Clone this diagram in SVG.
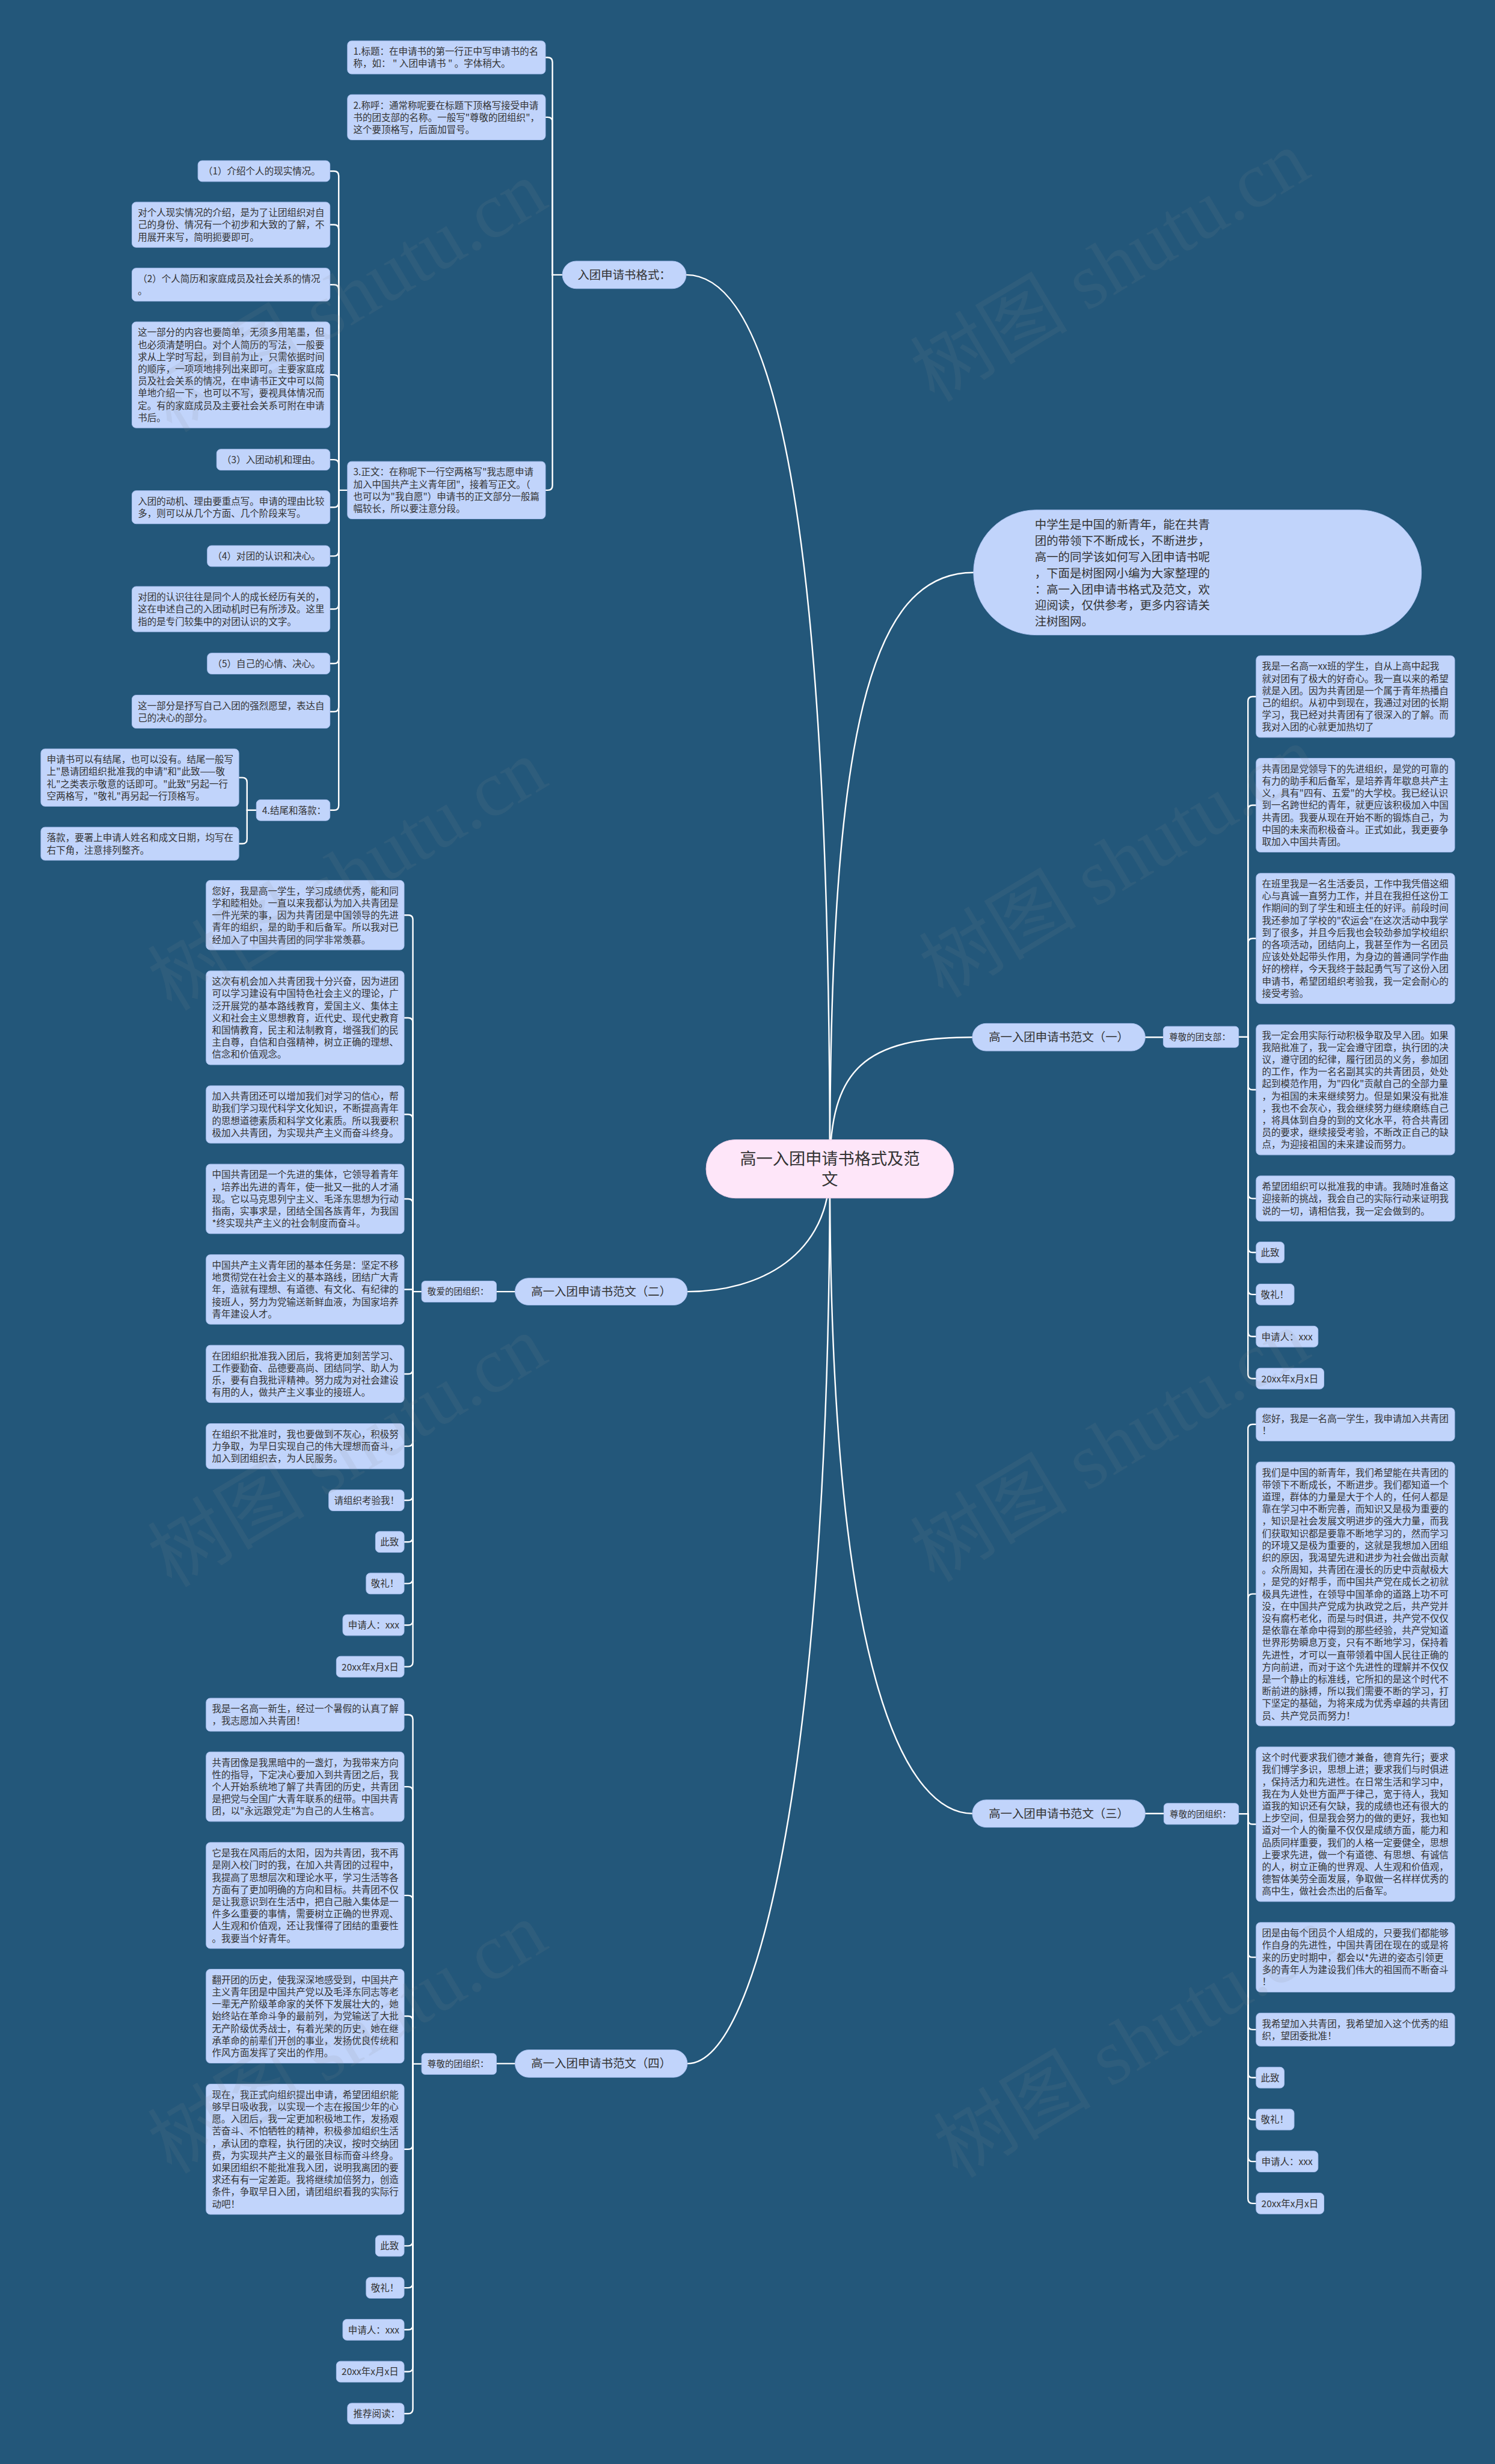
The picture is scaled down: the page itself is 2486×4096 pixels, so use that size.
<svg xmlns="http://www.w3.org/2000/svg" width="2486" height="4096" viewBox="0 0 2486 4096">
<style>
.bg{fill:#23577A}
.box{fill:#C1D4FB;stroke:#A9C0F0;stroke-width:1}
.lbl{fill:#C1D4FB;stroke:#A9C0F0;stroke-width:1}
.pill{fill:#C1D4FB;stroke:#A9C0F0;stroke-width:1}
.ctr{fill:#FEE6F9;stroke:#E9C8E4;stroke-width:1}
.t{font-family:"Noto Sans CJK SC","Liberation Sans",sans-serif;font-size:16px;fill:#333}
.ts{font-family:"Noto Sans CJK SC","Liberation Sans",sans-serif;font-size:15px;fill:#333}
.tp{font-family:"Noto Sans CJK SC","Liberation Sans",sans-serif;font-size:20px;fill:#333;text-anchor:middle}
.ti{font-family:"Noto Sans CJK SC","Liberation Sans",sans-serif;font-size:20px;fill:#333}
.tc{font-family:"Noto Sans CJK SC","Liberation Sans",sans-serif;font-size:28px;fill:#333;text-anchor:middle}
.con{fill:none;stroke:#FFFFFF;stroke-width:2.5;stroke-linecap:round}
.wm{font-family:"Liberation Serif","Noto Sans CJK SC",serif;font-size:135px;fill:#8C8C8C;opacity:0.11}
</style>
<rect class="bg" x="0" y="0" width="2486" height="4096"/>
<g transform="scale(0.971094)">

<g id="connectors">
<path class="con" d="M1421 2001C1421 1100 1360 470.5 1175 470.5"/>
<path class="con" d="M1421 2001C1421 1250 1490 980 1667 980"/>
<path class="con" d="M1421 2001C1421 1830 1480 1775.5 1665 1775.5"/>
<path class="con" d="M1421 2001C1421 2150 1300 2211 1177 2211"/>
<path class="con" d="M1421 2001C1421 2900 1560 3104.5 1665 3104.5"/>
<path class="con" d="M1421 2001C1421 3000 1300 3532.5 1177 3532.5"/>

<path class="con" d="M963 470.5H946"/>
<path class="con" d="M946 470.5V106.3Q946 98.3 938 98.3H934"/>
<path class="con" d="M946 470.5V208.7Q946 200.7 938 200.7H934"/>
<path class="con" d="M946 470.5V831.1Q946 839.1 938 839.1H934"/>

<path class="con" d="M595 839.1H580"/>
<path class="con" d="M580 839.1V300.9Q580 292.9 572 292.9H565"/>
<path class="con" d="M580 839.1V392.7Q580 384.7 572 384.7H565"/>
<path class="con" d="M580 839.1V495.3Q580 487.3 572 487.3H565"/>
<path class="con" d="M580 839.1V649.7Q580 641.7 572 641.7H565"/>
<path class="con" d="M580 839.1V794.9Q580 786.9 572 786.9H565"/>
<path class="con" d="M580 839.1V860.3Q580 868.3 572 868.3H565"/>
<path class="con" d="M580 839.1V943.9Q580 951.9 572 951.9H565"/>
<path class="con" d="M580 839.1V1034.7Q580 1042.7 572 1042.7H565"/>
<path class="con" d="M580 839.1V1127.9Q580 1135.9 572 1135.9H565"/>
<path class="con" d="M580 839.1V1210.3Q580 1218.3 572 1218.3H565"/>
<path class="con" d="M580 839.1V1378.9Q580 1386.9 572 1386.9H565"/>

<path class="con" d="M439 1386.9H423"/>
<path class="con" d="M423 1386.9V1339.1Q423 1331.1 415 1331.1H409"/>
<path class="con" d="M423 1386.9V1436.3Q423 1444.3 415 1444.3H409"/>

<path class="con" d="M1961 1775.5H1992"/>
<path class="con" d="M2121 1775H2137"/>
<path class="con" d="M2137 1775V1200.4Q2137 1192.4 2145 1192.4H2151"/>
<path class="con" d="M2137 1775V1386.3Q2137 1378.3 2145 1378.3H2151"/>
<path class="con" d="M2137 1775V1614.5Q2137 1606.5 2145 1606.5H2151"/>
<path class="con" d="M2137 1775V1857.5Q2137 1865.5 2145 1865.5H2151"/>
<path class="con" d="M2137 1775V2043.7Q2137 2051.7 2145 2051.7H2151"/>
<path class="con" d="M2137 1775V2135.9Q2137 2143.9 2145 2143.9H2151"/>
<path class="con" d="M2137 1775V2207.9Q2137 2215.9 2145 2215.9H2151"/>
<path class="con" d="M2137 1775V2279.9Q2137 2287.9 2145 2287.9H2151"/>
<path class="con" d="M2137 1775V2351.9Q2137 2359.9 2145 2359.9H2151"/>

<path class="con" d="M1961 3104.5H1993"/>
<path class="con" d="M2121 3105H2137"/>
<path class="con" d="M2137 3105V2446.3Q2137 2438.3 2145 2438.3H2151"/>
<path class="con" d="M2137 3105V2736.5Q2137 2728.5 2145 2728.5H2151"/>
<path class="con" d="M2137 3105V3114.7Q2137 3122.7 2145 3122.7H2151"/>
<path class="con" d="M2137 3105V3342.5Q2137 3350.5 2145 3350.5H2151"/>
<path class="con" d="M2137 3105V3466.3Q2137 3474.3 2145 3474.3H2151"/>
<path class="con" d="M2137 3105V3548.5Q2137 3556.5 2145 3556.5H2151"/>
<path class="con" d="M2137 3105V3620.3Q2137 3628.3 2145 3628.3H2151"/>
<path class="con" d="M2137 3105V3692.1Q2137 3700.1 2145 3700.1H2151"/>
<path class="con" d="M2137 3105V3763.9Q2137 3771.9 2145 3771.9H2151"/>

<path class="con" d="M882 2211H850"/>
<path class="con" d="M722 2211H707"/>
<path class="con" d="M707 2211V1574.5Q707 1566.5 699 1566.5H692"/>
<path class="con" d="M707 2211V1750.3Q707 1742.3 699 1742.3H692"/>
<path class="con" d="M707 2211V1915.7Q707 1907.7 699 1907.7H692"/>
<path class="con" d="M707 2211V2060.3Q707 2052.3 699 2052.3H692"/>
<path class="con" d="M707 2211V2207.3H692"/>
<path class="con" d="M707 2211V2343.9Q707 2351.9 699 2351.9H692"/>
<path class="con" d="M707 2211V2467.7Q707 2475.7 699 2475.7H692"/>
<path class="con" d="M707 2211V2560.3Q707 2568.3 699 2568.3H692"/>
<path class="con" d="M707 2211V2631.5Q707 2639.5 699 2639.5H692"/>
<path class="con" d="M707 2211V2702.7Q707 2710.7 699 2710.7H692"/>
<path class="con" d="M707 2211V2773.9Q707 2781.9 699 2781.9H692"/>
<path class="con" d="M707 2211V2845.1Q707 2853.1 699 2853.1H692"/>

<path class="con" d="M882 3532.5H850"/>
<path class="con" d="M722 3533H707"/>
<path class="con" d="M707 3533V2943.3Q707 2935.3 699 2935.3H692"/>
<path class="con" d="M707 3533V3066.5Q707 3058.5 699 3058.5H692"/>
<path class="con" d="M707 3533V3252.7Q707 3244.7 699 3244.7H692"/>
<path class="con" d="M707 3533V3459.3Q707 3451.3 699 3451.3H692"/>
<path class="con" d="M707 3533V3671.1Q707 3679.1 699 3679.1H692"/>
<path class="con" d="M707 3533V3836.5Q707 3844.5 699 3844.5H692"/>
<path class="con" d="M707 3533V3908.3Q707 3916.3 699 3916.3H692"/>
<path class="con" d="M707 3533V3980.1Q707 3988.1 699 3988.1H692"/>
<path class="con" d="M707 3533V4051.9Q707 4059.9 699 4059.9H692"/>
<path class="con" d="M707 3533V4123.7Q707 4131.7 699 4131.7H692"/>
</g>

<g id="center"><rect class="ctr" x="1209" y="1951" width="424" height="100" rx="50"/><text class="tc"><tspan x="1421" y="1994">高一入团申请书格式及范</tspan><tspan x="1421" y="2029">文</tspan></text></g>

<g id="intro"><rect class="pill" x="1667" y="873" width="767" height="214" rx="107"/><text class="ti"><tspan x="1772" y="905.5">中学生是中国的新青年，能在共青</tspan><tspan x="1772" dy="27.6">团的带领下不断成长，不断进步，</tspan><tspan x="1772" dy="27.6">高一的同学该如何写入团申请书呢</tspan><tspan x="1772" dy="27.6">，下面是树图网小编为大家整理的</tspan><tspan x="1772" dy="27.6">：高一入团申请书格式及范文，欢</tspan><tspan x="1772" dy="27.6">迎阅读，仅供参考，更多内容请关</tspan><tspan x="1772" dy="27.6">注树图网。</tspan></text></g>

<g id="b-format"><rect class="pill" x="963" y="447" width="212" height="47" rx="23.5"/><text class="tp" x="1069" y="477.5">入团申请书格式：</text></g>
<g id="b-fw1"><rect class="pill" x="1665" y="1752" width="296" height="47" rx="23.5"/><text class="tp" x="1813" y="1782.5">高一入团申请书范文（一）</text></g>
<g id="b-fw2"><rect class="pill" x="882" y="2188" width="295" height="46" rx="23"/><text class="tp" x="1029.5" y="2218">高一入团申请书范文（二）</text></g>
<g id="b-fw3"><rect class="pill" x="1665" y="3081" width="296" height="47" rx="23.5"/><text class="tp" x="1813" y="3111.5">高一入团申请书范文（三）</text></g>
<g id="b-fw4"><rect class="pill" x="882" y="3509" width="295" height="47" rx="23.5"/><text class="tp" x="1029.5" y="3539.5">高一入团申请书范文（四）</text></g>

<g id="l-fw1"><rect class="lbl" x="1992" y="1757" width="129" height="36" rx="6"/><text class="ts" x="2002" y="1780.5">尊敬的团支部：</text></g>
<g id="l-fw2"><rect class="lbl" x="722" y="2193" width="128" height="36" rx="6"/><text class="ts" x="732" y="2216.5">敬爱的团组织：</text></g>
<g id="l-fw3"><rect class="lbl" x="1993" y="3087" width="128" height="36" rx="6"/><text class="ts" x="2003" y="3110.5">尊敬的团组织：</text></g>
<g id="l-fw4"><rect class="lbl" x="722" y="3515" width="128" height="36" rx="6"/><text class="ts" x="732" y="3538.5">尊敬的团组织：</text></g>

<g id="t1" transform="translate(595,70)"><rect class="box" width="339" height="56.6" rx="7"/><text class="t" y="24"><tspan x="10">1.标题：在申请书的第一行正中写申请书的名</tspan><tspan x="10" dy="20.8">称，如： " 入团申请书 " 。字体稍大。</tspan></text></g>
<g id="t2" transform="translate(595,162)"><rect class="box" width="339" height="77.4" rx="7"/><text class="t" y="24"><tspan x="10">2.称呼：通常称呢要在标题下顶格写接受申请</tspan><tspan x="10" dy="20.8">书的团支部的名称。一般写"尊敬的团组织"，</tspan><tspan x="10" dy="20.8">这个要顶格写，后面加冒号。</tspan></text></g>
<g id="t3" transform="translate(595,790)"><rect class="box" width="339" height="98.2" rx="7"/><text class="t" y="24"><tspan x="10">3.正文：在称呢下一行空两格写"我志愿申请</tspan><tspan x="10" dy="20.8">加入中国共产主义青年团"，接着写正文。（</tspan><tspan x="10" dy="20.8">也可以为"我自愿"）申请书的正文部分一般篇</tspan><tspan x="10" dy="20.8">幅较长，所以要注意分段。</tspan></text></g>

<g id="c1" transform="translate(339,275)"><rect class="box" width="226" height="35.8" rx="7"/><text class="t" y="24"><tspan x="9">（1）介绍个人的现实情况。</tspan></text></g>
<g id="c2" transform="translate(226,346)"><rect class="box" width="339" height="77.4" rx="7"/><text class="t" y="24"><tspan x="10">对个人现实情况的介绍，是为了让团组织对自</tspan><tspan x="10" dy="20.8">己的身份、情况有一个初步和大致的了解，不</tspan><tspan x="10" dy="20.8">用展开来写，简明扼要即可。</tspan></text></g>
<g id="c3" transform="translate(226,459)"><rect class="box" width="339" height="56.6" rx="7"/><text class="t" y="24"><tspan x="10">（2）个人简历和家庭成员及社会关系的情况</tspan><tspan x="10" dy="20.8">。</tspan></text></g>
<g id="c4" transform="translate(226,551)"><rect class="box" width="339" height="181.4" rx="7"/><text class="t" y="24"><tspan x="10">这一部分的内容也要简单，无须多用笔墨，但</tspan><tspan x="10" dy="20.8">也必须清楚明白。对个人简历的写法，一般要</tspan><tspan x="10" dy="20.8">求从上学时写起，到目前为止，只需依据时间</tspan><tspan x="10" dy="20.8">的顺序，一项项地排列出来即可。主要家庭成</tspan><tspan x="10" dy="20.8">员及社会关系的情况，在申请书正文中可以简</tspan><tspan x="10" dy="20.8">单地介绍一下，也可以不写，要视具体情况而</tspan><tspan x="10" dy="20.8">定。有的家庭成员及主要社会关系可附在申请</tspan><tspan x="10" dy="20.8">书后。</tspan></text></g>
<g id="c5" transform="translate(371,769)"><rect class="box" width="194" height="35.8" rx="7"/><text class="t" y="24"><tspan x="9">（3）入团动机和理由。</tspan></text></g>
<g id="c6" transform="translate(226,840)"><rect class="box" width="339" height="56.6" rx="7"/><text class="t" y="24"><tspan x="10">入团的动机、理由要重点写。申请的理由比较</tspan><tspan x="10" dy="20.8">多，则可以从几个方面、几个阶段来写。</tspan></text></g>
<g id="c7" transform="translate(355,934)"><rect class="box" width="210" height="35.8" rx="7"/><text class="t" y="24"><tspan x="9">（4）对团的认识和决心。</tspan></text></g>
<g id="c8" transform="translate(226,1004)"><rect class="box" width="339" height="77.4" rx="7"/><text class="t" y="24"><tspan x="10">对团的认识往往是同个人的成长经历有关的，</tspan><tspan x="10" dy="20.8">这在申述自己的入团动机时已有所涉及。这里</tspan><tspan x="10" dy="20.8">指的是专门较集中的对团认识的文字。</tspan></text></g>
<g id="c9" transform="translate(355,1118)"><rect class="box" width="210" height="35.8" rx="7"/><text class="t" y="24"><tspan x="9">（5）自己的心情、决心。</tspan></text></g>
<g id="c10" transform="translate(226,1190)"><rect class="box" width="339" height="56.6" rx="7"/><text class="t" y="24"><tspan x="10">这一部分是抒写自己入团的强烈愿望，表达自</tspan><tspan x="10" dy="20.8">己的决心的部分。</tspan></text></g>
<g id="c11" transform="translate(439,1369)"><rect class="box" width="126" height="35.8" rx="7"/><text class="t" y="24"><tspan x="10">4.结尾和落款：</tspan></text></g>
<g id="c11a" transform="translate(70,1282)"><rect class="box" width="339" height="98.2" rx="7"/><text class="t" y="24"><tspan x="10">申请书可以有结尾，也可以没有。结尾一般写</tspan><tspan x="10" dy="20.8">上"恳请团组织批准我的申请"和"此致——敬</tspan><tspan x="10" dy="20.8">礼"之类表示敬意的话即可。"此致"另起一行</tspan><tspan x="10" dy="20.8">空两格写，"敬礼"再另起一行顶格写。</tspan></text></g>
<g id="c11b" transform="translate(70,1416)"><rect class="box" width="339" height="56.6" rx="7"/><text class="t" y="24"><tspan x="10">落款，要署上申请人姓名和成文日期，均写在</tspan><tspan x="10" dy="20.8">右下角，注意排列整齐。</tspan></text></g>

<g id="r1" transform="translate(2151,1122.5)"><rect class="box" width="340" height="139.8" rx="7"/><text class="t" y="24"><tspan x="10">我是一名高一xx班的学生，自从上高中起我</tspan><tspan x="10" dy="20.8">就对团有了极大的好奇心。我一直以来的希望</tspan><tspan x="10" dy="20.8">就是入团。因为共青团是一个属于青年热播自</tspan><tspan x="10" dy="20.8">己的组织。从初中到现在，我通过对团的长期</tspan><tspan x="10" dy="20.8">学习，我已经对共青团有了很深入的了解。而</tspan><tspan x="10" dy="20.8">我对入团的心就更加热切了</tspan></text></g>
<g id="r2" transform="translate(2151,1298)"><rect class="box" width="340" height="160.6" rx="7"/><text class="t" y="24"><tspan x="10">共青团是党领导下的先进组织，是党的可靠的</tspan><tspan x="10" dy="20.8">有力的助手和后备军，是培养青年歇息共产主</tspan><tspan x="10" dy="20.8">义，具有"四有、五爱"的大学校。我已经认识</tspan><tspan x="10" dy="20.8">到一名跨世纪的青年，就更应该积极加入中国</tspan><tspan x="10" dy="20.8">共青团。我要从现在开始不断的锻炼自己，为</tspan><tspan x="10" dy="20.8">中国的未来而积极奋斗。正式如此，我更要争</tspan><tspan x="10" dy="20.8">取加入中国共青团。</tspan></text></g>
<g id="r3" transform="translate(2151,1495)"><rect class="box" width="340" height="223" rx="7"/><text class="t" y="24"><tspan x="10">在班里我是一名生活委员，工作中我凭借这细</tspan><tspan x="10" dy="20.8">心与真诚一直努力工作，并且在我担任这份工</tspan><tspan x="10" dy="20.8">作期间的到了学生和班主任的好评。前段时间</tspan><tspan x="10" dy="20.8">我还参加了学校的"农运会"在这次活动中我学</tspan><tspan x="10" dy="20.8">到了很多，并且今后我也会较劲参加学校组织</tspan><tspan x="10" dy="20.8">的各项活动，团结向上，我甚至作为一名团员</tspan><tspan x="10" dy="20.8">应该处处起带头作用，为身边的普通同学作曲</tspan><tspan x="10" dy="20.8">好的榜样，今天我终于鼓起勇气写了这份入团</tspan><tspan x="10" dy="20.8">申请书，希望团组织考验我，我一定会耐心的</tspan><tspan x="10" dy="20.8">接受考验。</tspan></text></g>
<g id="r4" transform="translate(2151,1754)"><rect class="box" width="340" height="223" rx="7"/><text class="t" y="24"><tspan x="10">我一定会用实际行动积极争取及早入团。如果</tspan><tspan x="10" dy="20.8">我陪批准了，我一定会遵守团章，执行团的决</tspan><tspan x="10" dy="20.8">议，遵守团的纪律，履行团员的义务，参加团</tspan><tspan x="10" dy="20.8">的工作，作为一名名副其实的共青团员，处处</tspan><tspan x="10" dy="20.8">起到模范作用，为"四化"贡献自己的全部力量</tspan><tspan x="10" dy="20.8">，为祖国的未来继续努力。但是如果没有批准</tspan><tspan x="10" dy="20.8">，我也不会灰心，我会继续努力继续磨练自己</tspan><tspan x="10" dy="20.8">，将具体到自身的到的文化水平，符合共青团</tspan><tspan x="10" dy="20.8">员的要求，继续接受考验，不断改正自己的缺</tspan><tspan x="10" dy="20.8">点，为迎接祖国的未来建设而努力。</tspan></text></g>
<g id="r5" transform="translate(2151,2013)"><rect class="box" width="340" height="77.4" rx="7"/><text class="t" y="24"><tspan x="10">希望团组织可以批准我的申请。我随时准备这</tspan><tspan x="10" dy="20.8">迎接新的挑战，我会自己的实际行动来证明我</tspan><tspan x="10" dy="20.8">说的一切，请相信我，我一定会做到的。</tspan></text></g>
<g id="r6" transform="translate(2151,2126)"><rect class="box" width="48" height="35.8" rx="7"/><text class="t" x="8" y="24">此致</text></g>
<g id="r7" transform="translate(2151,2198)"><rect class="box" width="65" height="35.8" rx="7"/><text class="t" x="8" y="24">敬礼！</text></g>
<g id="r8" transform="translate(2151,2270)"><rect class="box" width="106" height="35.8" rx="7"/><text class="t" x="9" y="24">申请人：xxx</text></g>
<g id="r9" transform="translate(2151,2342)"><rect class="box" width="116" height="35.8" rx="7"/><text class="t" x="9" y="24">20xx年x月x日</text></g>

<g id="s1" transform="translate(2151,2410)"><rect class="box" width="340" height="56.6" rx="7"/><text class="t" y="24"><tspan x="10">您好，我是一名高一学生，我申请加入共青团</tspan><tspan x="10" dy="20.8">！</tspan></text></g>
<g id="s2" transform="translate(2151,2502.6)"><rect class="box" width="340" height="451.8" rx="7"/><text class="t" y="24"><tspan x="10">我们是中国的新青年，我们希望能在共青团的</tspan><tspan x="10" dy="20.8">带领下不断成长，不断进步。我们都知道一个</tspan><tspan x="10" dy="20.8">道理，群体的力量是大于个人的，任何人都是</tspan><tspan x="10" dy="20.8">靠在学习中不断完善，而知识又是极为重要的</tspan><tspan x="10" dy="20.8">，知识是社会发展文明进步的强大力量，而我</tspan><tspan x="10" dy="20.8">们获取知识都是要靠不断地学习的，然而学习</tspan><tspan x="10" dy="20.8">的环境又是极为重要的，这就是我想加入团组</tspan><tspan x="10" dy="20.8">织的原因，我渴望先进和进步为社会做出贡献</tspan><tspan x="10" dy="20.8">。众所周知，共青团在漫长的历史中贡献极大</tspan><tspan x="10" dy="20.8">，是党的好帮手，而中国共产党在成长之初就</tspan><tspan x="10" dy="20.8">极具先进性，在领导中国革命的道路上功不可</tspan><tspan x="10" dy="20.8">没，在中国共产党成为执政党之后，共产党并</tspan><tspan x="10" dy="20.8">没有腐朽老化，而是与时俱进，共产党不仅仅</tspan><tspan x="10" dy="20.8">是依靠在革命中得到的那些经验，共产党知道</tspan><tspan x="10" dy="20.8">世界形势瞬息万变，只有不断地学习，保持着</tspan><tspan x="10" dy="20.8">先进性，才可以一直带领着中国人民往正确的</tspan><tspan x="10" dy="20.8">方向前进，而对于这个先进性的理解并不仅仅</tspan><tspan x="10" dy="20.8">是一个静止的标准线，它所扣的是这个时代不</tspan><tspan x="10" dy="20.8">断前进的脉搏，所以我们需要不断的学习，打</tspan><tspan x="10" dy="20.8">下坚定的基础，为将来成为优秀卓越的共青团</tspan><tspan x="10" dy="20.8">员、共产党员而努力！</tspan></text></g>
<g id="s3" transform="translate(2151,2990.4)"><rect class="box" width="340" height="264.6" rx="7"/><text class="t" y="24"><tspan x="10">这个时代要求我们德才兼备，德育先行；要求</tspan><tspan x="10" dy="20.8">我们博学多识，思想上进；要求我们与时俱进</tspan><tspan x="10" dy="20.8">，保持活力和先进性。在日常生活和学习中，</tspan><tspan x="10" dy="20.8">我在为人处世方面严于律己，宽于待人，我知</tspan><tspan x="10" dy="20.8">道我的知识还有欠缺，我的成绩也还有很大的</tspan><tspan x="10" dy="20.8">上步空间，但是我会努力的做的更好，我也知</tspan><tspan x="10" dy="20.8">道对一个人的衡量不仅仅是成绩方面，能力和</tspan><tspan x="10" dy="20.8">品质同样重要，我们的人格一定要健全，思想</tspan><tspan x="10" dy="20.8">上要求先进，做一个有道德、有思想、有诚信</tspan><tspan x="10" dy="20.8">的人，树立正确的世界观、人生观和价值观，</tspan><tspan x="10" dy="20.8">德智体美劳全面发展，争取做一名样样优秀的</tspan><tspan x="10" dy="20.8">高中生，做社会杰出的后备军。</tspan></text></g>
<g id="s4" transform="translate(2151,3291)"><rect class="box" width="340" height="119" rx="7"/><text class="t" y="24"><tspan x="10">团是由每个团员个人组成的，只要我们都能够</tspan><tspan x="10" dy="20.8">作自身的先进性，中国共青团在现在的或是将</tspan><tspan x="10" dy="20.8">来的历史时期中，都会以*先进的姿态引领更</tspan><tspan x="10" dy="20.8">多的青年人为建设我们伟大的祖国而不断奋斗</tspan><tspan x="10" dy="20.8">！</tspan></text></g>
<g id="s5" transform="translate(2151,3446)"><rect class="box" width="340" height="56.6" rx="7"/><text class="t" y="24"><tspan x="10">我希望加入共青团，我希望加入这个优秀的组</tspan><tspan x="10" dy="20.8">织，望团委批准！</tspan></text></g>
<g id="s6" transform="translate(2151,3538.6)"><rect class="box" width="48" height="35.8" rx="7"/><text class="t" x="8" y="24">此致</text></g>
<g id="s7" transform="translate(2151,3610.4)"><rect class="box" width="65" height="35.8" rx="7"/><text class="t" x="8" y="24">敬礼！</text></g>
<g id="s8" transform="translate(2151,3682.2)"><rect class="box" width="106" height="35.8" rx="7"/><text class="t" x="9" y="24">申请人：xxx</text></g>
<g id="s9" transform="translate(2151,3754)"><rect class="box" width="116" height="35.8" rx="7"/><text class="t" x="9" y="24">20xx年x月x日</text></g>

<g id="l1" transform="translate(353,1507)"><rect class="box" width="339" height="119" rx="7"/><text class="t" y="24"><tspan x="10">您好，我是高一学生，学习成绩优秀，能和同</tspan><tspan x="10" dy="20.8">学和睦相处。一直以来我都认为加入共青团是</tspan><tspan x="10" dy="20.8">一件光荣的事，因为共青团是中国领导的先进</tspan><tspan x="10" dy="20.8">青年的组织，是的助手和后备军。所以我对已</tspan><tspan x="10" dy="20.8">经加入了中国共青团的同学非常羡慕。</tspan></text></g>
<g id="l2" transform="translate(353,1662)"><rect class="box" width="339" height="160.6" rx="7"/><text class="t" y="24"><tspan x="10">这次有机会加入共青团我十分兴奋，因为进团</tspan><tspan x="10" dy="20.8">可以学习建设有中国特色社会主义的理论，广</tspan><tspan x="10" dy="20.8">泛开展党的基本路线教育，爱国主义、集体主</tspan><tspan x="10" dy="20.8">义和社会主义思想教育，近代史、现代史教育</tspan><tspan x="10" dy="20.8">和国情教育，民主和法制教育，增强我们的民</tspan><tspan x="10" dy="20.8">主自尊，自信和自强精神，树立正确的理想、</tspan><tspan x="10" dy="20.8">信念和价值观念。</tspan></text></g>
<g id="l3" transform="translate(353,1858.6)"><rect class="box" width="339" height="98.2" rx="7"/><text class="t" y="24"><tspan x="10">加入共青团还可以增加我们对学习的信心，帮</tspan><tspan x="10" dy="20.8">助我们学习现代科学文化知识，不断提高青年</tspan><tspan x="10" dy="20.8">的思想道德素质和科学文化素质。所以我要积</tspan><tspan x="10" dy="20.8">极加入共青团，为实现共产主义而奋斗终身。</tspan></text></g>
<g id="l4" transform="translate(353,1992.8)"><rect class="box" width="339" height="119" rx="7"/><text class="t" y="24"><tspan x="10">中国共青团是一个先进的集体，它领导着青年</tspan><tspan x="10" dy="20.8">，培养出先进的青年，使一批又一批的人才涌</tspan><tspan x="10" dy="20.8">现。它以马克思列宁主义、毛泽东思想为行动</tspan><tspan x="10" dy="20.8">指南，实事求是，团结全国各族青年，为我国</tspan><tspan x="10" dy="20.8">*终实现共产主义的社会制度而奋斗。</tspan></text></g>
<g id="l5" transform="translate(353,2147.8)"><rect class="box" width="339" height="119" rx="7"/><text class="t" y="24"><tspan x="10">中国共产主义青年团的基本任务是：坚定不移</tspan><tspan x="10" dy="20.8">地贯彻党在社会主义的基本路线，团结广大青</tspan><tspan x="10" dy="20.8">年，造就有理想、有道德、有文化、有纪律的</tspan><tspan x="10" dy="20.8">接班人，努力为党输送新鲜血液，为国家培养</tspan><tspan x="10" dy="20.8">青年建设人才。</tspan></text></g>
<g id="l6" transform="translate(353,2302.8)"><rect class="box" width="339" height="98.2" rx="7"/><text class="t" y="24"><tspan x="10">在团组织批准我入团后，我将更加刻苦学习、</tspan><tspan x="10" dy="20.8">工作要勤奋、品德要高尚、团结同学、助人为</tspan><tspan x="10" dy="20.8">乐，要有自我批评精神。努力成为对社会建设</tspan><tspan x="10" dy="20.8">有用的人，做共产主义事业的接班人。</tspan></text></g>
<g id="l7" transform="translate(353,2437)"><rect class="box" width="339" height="77.4" rx="7"/><text class="t" y="24"><tspan x="10">在组织不批准时，我也要做到不灰心，积极努</tspan><tspan x="10" dy="20.8">力争取，为早日实现自己的伟大理想而奋斗，</tspan><tspan x="10" dy="20.8">加入到团组织去，为人民服务。</tspan></text></g>
<g id="l8" transform="translate(563,2550.4)"><rect class="box" width="129" height="35.8" rx="7"/><text class="t" x="9" y="24">请组织考验我！</text></g>
<g id="l9" transform="translate(643,2621.6)"><rect class="box" width="49" height="35.8" rx="7"/><text class="t" x="8" y="24">此致</text></g>
<g id="l10" transform="translate(627,2692.8)"><rect class="box" width="65" height="35.8" rx="7"/><text class="t" x="8" y="24">敬礼！</text></g>
<g id="l11" transform="translate(587,2764)"><rect class="box" width="105" height="35.8" rx="7"/><text class="t" x="9" y="24">申请人：xxx</text></g>
<g id="l12" transform="translate(576,2835.2)"><rect class="box" width="116" height="35.8" rx="7"/><text class="t" x="9" y="24">20xx年x月x日</text></g>

<g id="f1" transform="translate(353,2907)"><rect class="box" width="339" height="56.6" rx="7"/><text class="t" y="24"><tspan x="10">我是一名高一新生，经过一个暑假的认真了解</tspan><tspan x="10" dy="20.8">，我志愿加入共青团！</tspan></text></g>
<g id="f2" transform="translate(353,2999)"><rect class="box" width="339" height="119" rx="7"/><text class="t" y="24"><tspan x="10">共青团像是我黑暗中的一盏灯，为我带来方向</tspan><tspan x="10" dy="20.8">性的指导，下定决心要加入到共青团之后，我</tspan><tspan x="10" dy="20.8">个人开始系统地了解了共青团的历史，共青团</tspan><tspan x="10" dy="20.8">是把党与全国广大青年联系的纽带。中国共青</tspan><tspan x="10" dy="20.8">团，以"永远跟党走"为自己的人生格言。</tspan></text></g>
<g id="f3" transform="translate(353,3154)"><rect class="box" width="339" height="181.4" rx="7"/><text class="t" y="24"><tspan x="10">它是我在风雨后的太阳，因为共青团，我不再</tspan><tspan x="10" dy="20.8">是刚入校门时的我，在加入共青团的过程中，</tspan><tspan x="10" dy="20.8">我提高了思想层次和理论水平，学习生活等各</tspan><tspan x="10" dy="20.8">方面有了更加明确的方向和目标。共青团不仅</tspan><tspan x="10" dy="20.8">是让我意识到在生活中，把自己融入集体是一</tspan><tspan x="10" dy="20.8">件多么重要的事情，需要树立正确的世界观、</tspan><tspan x="10" dy="20.8">人生观和价值观，还让我懂得了团结的重要性</tspan><tspan x="10" dy="20.8">。我要当个好青年。</tspan></text></g>
<g id="f4" transform="translate(353,3371)"><rect class="box" width="339" height="160.6" rx="7"/><text class="t" y="24"><tspan x="10">翻开团的历史，使我深深地感受到，中国共产</tspan><tspan x="10" dy="20.8">主义青年团是中国共产党以及毛泽东同志等老</tspan><tspan x="10" dy="20.8">一辈无产阶级革命家的关怀下发展壮大的，她</tspan><tspan x="10" dy="20.8">始终站在革命斗争的最前列，为党输送了大批</tspan><tspan x="10" dy="20.8">无产阶级优秀战士，有着光荣的历史，她在继</tspan><tspan x="10" dy="20.8">承革命的前辈们开创的事业，发扬优良传统和</tspan><tspan x="10" dy="20.8">作风方面发挥了突出的作用。</tspan></text></g>
<g id="f5" transform="translate(353,3567.6)"><rect class="box" width="339" height="223" rx="7"/><text class="t" y="24"><tspan x="10">现在，我正式向组织提出申请，希望团组织能</tspan><tspan x="10" dy="20.8">够早日吸收我，以实现一个志在报国少年的心</tspan><tspan x="10" dy="20.8">愿。入团后，我一定更加积极地工作，发扬艰</tspan><tspan x="10" dy="20.8">苦奋斗、不怕牺牲的精神，积极参加组织生活</tspan><tspan x="10" dy="20.8">，承认团的章程，执行团的决议，按时交纳团</tspan><tspan x="10" dy="20.8">费，为实现共产主义的最张目标而奋斗终身。</tspan><tspan x="10" dy="20.8">如果团组织不能批准我入团，说明我离团的要</tspan><tspan x="10" dy="20.8">求还有有一定差距。我将继续加倍努力，创造</tspan><tspan x="10" dy="20.8">条件，争取早日入团，请团组织看我的实际行</tspan><tspan x="10" dy="20.8">动吧！</tspan></text></g>
<g id="f6" transform="translate(643,3826.6)"><rect class="box" width="49" height="35.8" rx="7"/><text class="t" x="8" y="24">此致</text></g>
<g id="f7" transform="translate(627,3898.4)"><rect class="box" width="65" height="35.8" rx="7"/><text class="t" x="8" y="24">敬礼！</text></g>
<g id="f8" transform="translate(587,3970.2)"><rect class="box" width="105" height="35.8" rx="7"/><text class="t" x="9" y="24">申请人：xxx</text></g>
<g id="f9" transform="translate(576,4042)"><rect class="box" width="116" height="35.8" rx="7"/><text class="t" x="9" y="24">20xx年x月x日</text></g>
<g id="f10" transform="translate(595,4113.8)"><rect class="box" width="97" height="35.8" rx="7"/><text class="t" x="10" y="24">推荐阅读：</text></g>

<g id="watermarks">
<text class="wm" transform="translate(294,742) rotate(-31)">树图 shutu.cn</text>
<text class="wm" transform="translate(294,1732) rotate(-31)">树图 shutu.cn</text>
<text class="wm" transform="translate(294,2719) rotate(-31)">树图 shutu.cn</text>
<text class="wm" transform="translate(294,3723) rotate(-31)">树图 shutu.cn</text>
<text class="wm" transform="translate(1600,690) rotate(-31)">树图 shutu.cn</text>
<text class="wm" transform="translate(1615,1710) rotate(-31)">树图 shutu.cn</text>
<text class="wm" transform="translate(1600,2710) rotate(-31)">树图 shutu.cn</text>
<text class="wm" transform="translate(1640,3730) rotate(-31)">树图 shutu.cn</text>
</g>
</g>
</svg>
